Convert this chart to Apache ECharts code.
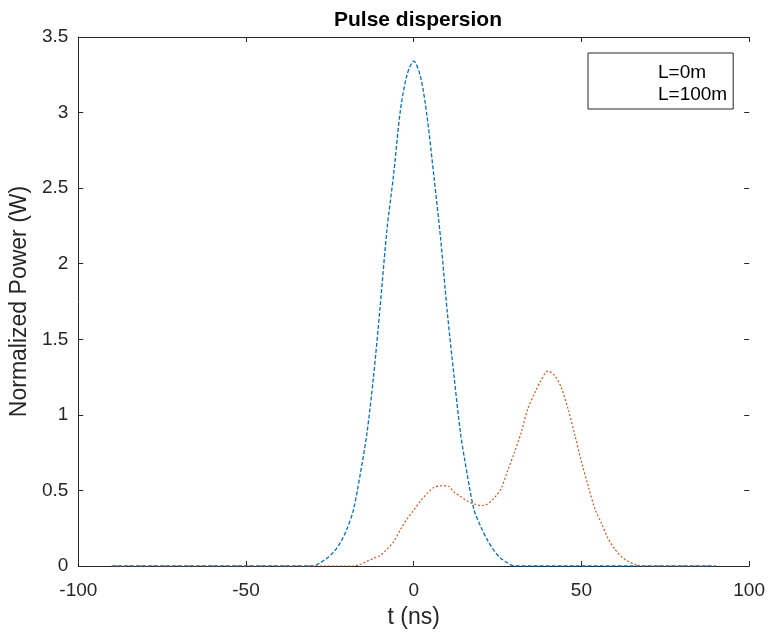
<!DOCTYPE html>
<html>
<head>
<meta charset="utf-8">
<script src="https://cdn.jsdelivr.net/npm/echarts@6/dist/echarts.min.js"></script>
<style>html,body{margin:0;padding:0;background:#fff;}#chart{width:768px;height:634px;}</style>
</head>
<body>
<div id="chart"></div>
<script>
// time axis (ns)
var tValues = [-90,-88,-86,-84,-82,-80,-78,-76,-74,-72,-70,-68,-66,-64,-62,-60,-58,-56,-54,-52,-50,-48,-46,-44,-42,-40,-38,-36,-34,-32,-30,-28,-26,-24,-22,-20,-18,-16,-14,-12,-10,-8,-6,-4,-2,0,2,4,6,8,10,12,14,16,18,20,22,24,26,28,30,32,34,36,38,40,42,44,46,48,50,52,54,56,58,60,62,64,66,68,70,72,74,76,78,80,82,84,86,88,90];
// L=0m pulse
var power0m = [0,0,0,0,0,0,0,0,0,0,0,0,0,0,0,0,0,0,0,0,0,0,0,0,0,0,0,0,0,0,0,
  0.02,0.05,0.09,0.15,0.24,0.37,0.60,0.87,1.25,1.72,2.22,2.59,3.01,3.25,3.34,3.24,2.97,2.58,2.17,1.68,1.26,0.87,0.60,0.37,0.26,0.17,0.10,0.05,0.02,
  0,0,0,0,0,0,0,0,0,0,0,0,0,0,0,0,0,0,0,0,0,0,0,0,0,0,0,0,0,0,0];
// L=100m pulse
var power100m = [0,0,0,0,0,0,0,0,0,0,0,0,0,0,0,0,0,0,0,0,0,0,0,0,0,0,0,0,0,0,0,0,0,0,0,0,0,
  0.01,0.03,0.05,0.07,0.11,0.16,0.24,0.31,0.37,0.43,0.48,0.52,0.53,0.53,0.49,0.46,0.43,0.41,0.40,0.41,0.45,0.51,0.63,0.75,0.88,1.04,1.14,1.23,1.29,1.26,1.18,1.04,0.87,0.69,0.53,0.38,0.28,0.18,0.11,0.06,0.03,0.01,
  0,0,0,0,0,0,0,0,0,0,0,0];
var seriesNames = ['L=0m', 'L=100m'];
var xTicks = [-100, -50, 0, 50, 100];
var yTicks = [0, 0.5, 1, 1.5, 2, 2.5, 3, 3.5];

function pairs(ys){ return tValues.map(function(t,i){ return [t, ys[i]]; }); }

var FONT = 'Liberation Sans, Arial, Helvetica, sans-serif';
var TXT = '#262626';
var chart = echarts.init(document.getElementById('chart'), null, {renderer:'canvas'});
function axisCommon(showLine){
  return {
    axisLine:{show:showLine, onZero:false, lineStyle:{color:TXT, width:1}},
    axisTick:{show:true, inside:true, length:5, lineStyle:{color:TXT}},
    splitLine:{show:false}
  };
}
chart.setOption({
  animation:false,
  backgroundColor:'#ffffff',
  title:{text:'Pulse dispersion', left:413, top:5, textAlign:'center',
    textStyle:{fontFamily:FONT, fontSize:21, fontWeight:'bold', color:'#000'}},
  legend:{data:seriesNames, orient:'vertical', left:588, top:53, icon:'rect',
    itemWidth:57, itemHeight:8, itemGap:3, padding:[10,6,5,8],
    borderColor:TXT, borderWidth:1, backgroundColor:'#fff',
    itemStyle:{opacity:0}, lineStyle:{opacity:0},
    textStyle:{fontFamily:FONT, fontSize:19, color:'#000'}},
  grid:{left:77, right:18, top:37, bottom:66},
  xAxis:[
    Object.assign({type:'value', min:xTicks[0], max:xTicks[xTicks.length-1], interval:50, position:'bottom',
      name:'t (ns)', nameLocation:'middle', nameGap:40,
      nameTextStyle:{fontFamily:FONT, fontSize:23, color:TXT},
      axisLabel:{fontFamily:FONT, fontSize:19, color:TXT, margin:15}}, axisCommon(true)),
    Object.assign({type:'value', min:xTicks[0], max:xTicks[xTicks.length-1], interval:50, position:'top',
      axisLabel:{show:false}}, axisCommon(true))
  ],
  yAxis:[
    Object.assign({type:'value', min:yTicks[0], max:yTicks[yTicks.length-1], interval:0.5, position:'left',
      name:'Normalized Power (W)', nameLocation:'middle', nameGap:47, nameRotate:90,
      nameTextStyle:{fontFamily:FONT, fontSize:23, color:TXT},
      axisLabel:{fontFamily:FONT, fontSize:19, color:TXT, margin:10}}, axisCommon(true)),
    Object.assign({type:'value', min:yTicks[0], max:yTicks[yTicks.length-1], interval:0.5, position:'right',
      axisLabel:{show:false}}, axisCommon(false))
  ],
  series:[
    {name:seriesNames[0], type:'line', data:pairs(power0m), showSymbol:false, smooth:0.3,
      color:'#0072BD', lineStyle:{color:'#0072BD', width:1.3, type:[4,2]}},
    {name:seriesNames[1], type:'line', data:pairs(power100m), showSymbol:false, smooth:0.3,
      color:'#D95319', lineStyle:{color:'#D95319', width:1.2, type:[2,2]}}
  ]
});
</script>
</body>
</html>
